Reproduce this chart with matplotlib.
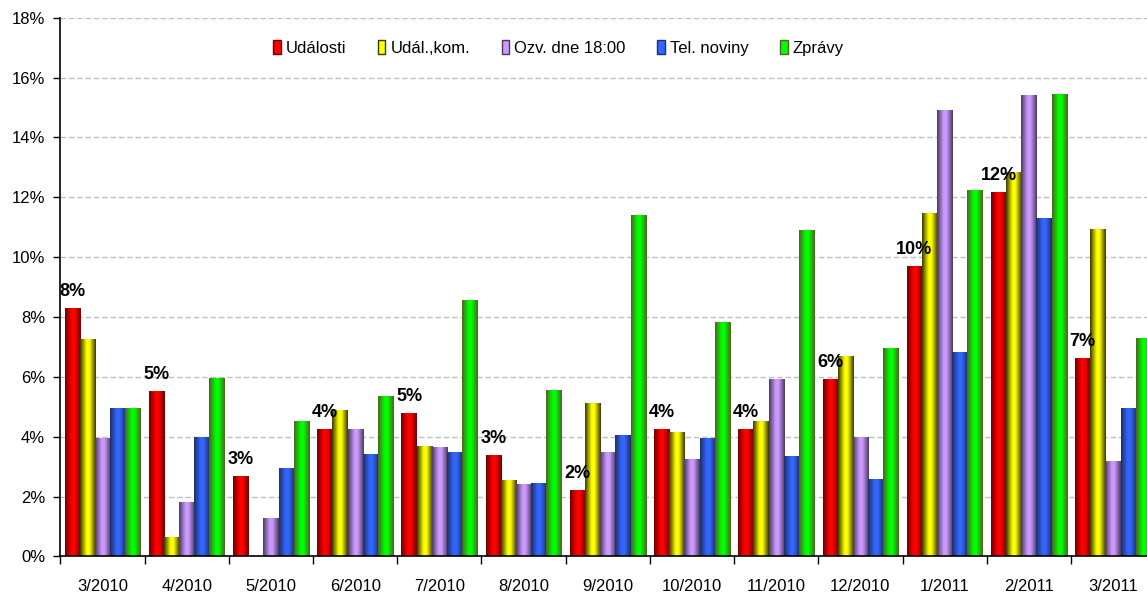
import numpy as np
import matplotlib
matplotlib.use("Agg")
from matplotlib import pyplot as plt
from matplotlib.colors import LinearSegmentedColormap
from matplotlib.patches import Patch

plt.rcParams['font.family'] = ['Liberation Sans', 'DejaVu Sans']

months = ["3/2010", "4/2010", "5/2010", "6/2010", "7/2010", "8/2010", "9/2010",
          "10/2010", "11/2010", "12/2010", "1/2011", "2/2011", "3/2011"]

udalosti = [8.28, 5.48, 2.66, 4.21, 4.75, 3.37, 2.19, 4.24, 4.21, 5.89, 9.68, 12.16, 6.61]
udal_kom = [7.24, 0.61, 0.0, 4.85, 3.67, 2.53, 5.08, 4.11, 4.48, 6.67, 11.45, 12.80, 10.92]
ozvy = [3.94, 1.78, 1.25, 4.21, 3.64, 2.39, 3.47, 3.23, 5.89, 3.97, 14.90, 15.40, 3.16]
tel_noviny = [4.92, 3.97, 2.93, 3.40, 3.47, 2.42, 4.01, 3.94, 3.33, 2.56, 6.81, 11.29, 4.93]
zpravy = [4.92, 5.93, 4.51, 5.32, 8.55, 5.52, 11.39, 7.81, 10.88, 6.94, 12.22, 15.43, 7.27]

series_names = ["Události", "Udál.,kom.", "Ozv. dne 18:00", "Tel. noviny", "Zprávy"]
series = [udalosti, udal_kom, ozvy, tel_noviny, zpravy]

# bright colour and dark edge colour for each series
bright = ["#ff0000", "#ffff00", "#cc99ff", "#3366ff", "#00ff00"]
dark = ["#6e0000", "#3a3a00", "#4a3a5e", "#1e2f66", "#4a6622"]

fig = plt.figure(figsize=(11.47, 5.96), dpi=100)
ax = fig.add_axes([0.0527, 0.0663, 0.9544, 0.904])

n = len(months)
x = np.arange(n)
w = 0.18
grad = np.linspace(0, 1, 64).reshape(1, -1)

for k, vals in enumerate(series):
    cmap = LinearSegmentedColormap.from_list(
        "g%d" % k, [(0, dark[k]), (0.42, bright[k]), (0.6, bright[k]), (1, dark[k])])
    offs = (k - 2) * w
    bars = ax.bar(x + offs, vals, w, color="none", linewidth=0, zorder=2)
    for b in bars:
        h = b.get_height()
        if h <= 0:
            continue
        x0 = b.get_x()
        ax.imshow(grad, cmap=cmap, extent=(x0, x0 + w, 0, h), aspect="auto",
                  interpolation="bilinear", zorder=2)

# labels above Události bars
for i, v in enumerate(udalosti):
    ax.text(x[i] - 2 * w, v + 0.3, "%d%%" % round(v), ha="center", va="bottom",
            fontsize=13, fontweight="bold", zorder=3)

ax.set_xlim(-0.5, n - 0.5)
ax.set_ylim(0, 18)
ax.set_yticks(np.arange(0, 19, 2))
ax.set_yticklabels(["%d%%" % t for t in range(0, 19, 2)], fontsize=12)
ax.set_xticks(np.arange(n + 1) - 0.5)
ax.set_xticklabels([])
ax.set_xticks(x, minor=True)
ax.set_xticklabels(months, minor=True, fontsize=12)
ax.tick_params(axis="x", which="major", length=6, width=1, direction="out")
ax.tick_params(axis="x", which="minor", length=0, pad=16)
ax.tick_params(axis="y", length=5, width=1, direction="out", pad=6)

ax.yaxis.grid(True, color="#c0c0c0", linestyle=(0, (4, 2)), linewidth=1)
ax.set_axisbelow(True)
for s in ["top", "right"]:
    ax.spines[s].set_visible(False)
for s in ["left", "bottom"]:
    ax.spines[s].set_linewidth(1.2)

handles = [Patch(facecolor=bright[k], edgecolor=dark[k], linewidth=1) for k in range(5)]
ax.legend(handles, series_names, loc="center", bbox_to_anchor=(0.455, 0.944), ncol=5,
          frameon=False, fontsize=12, handlelength=0.45, handleheight=0.9,
          handletextpad=0.3, columnspacing=1.9)

fig.savefig("out.png", dpi=100)
